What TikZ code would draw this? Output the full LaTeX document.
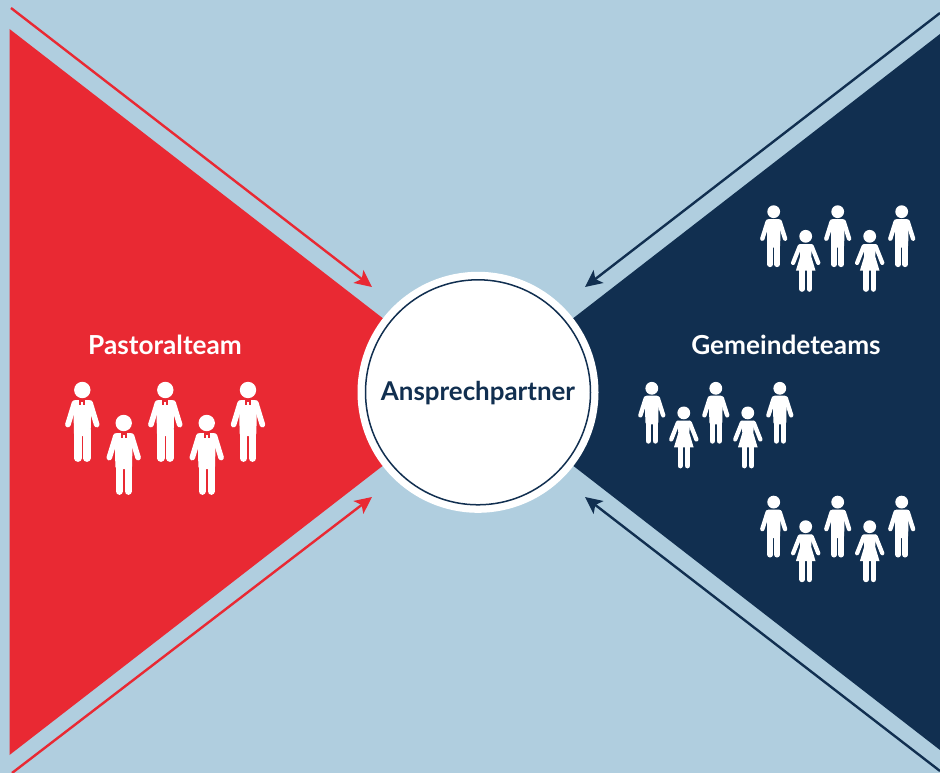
\documentclass[tikz,border=0pt]{standalone}
\usepackage{fontspec}
\setmainfont{Lato}
\usepackage{xcolor}
\usetikzlibrary{positioning,arrows.meta}
\definecolor{skyback}{HTML}{B0CEDF}
\definecolor{teamred}{HTML}{E92933}
\definecolor{teamblue}{HTML}{112F50}

\begin{document}
\begin{tikzpicture}[x=1pt,y=-1pt,
    >={Stealth[length=17pt,width=16pt,inset=4pt]},
    hub/.style={%
      circle, draw=white, line width=8pt, fill=white,
      minimum size=233pt, inner sep=0pt, align=center
    },
    ring/.style={%
      circle, draw=teamblue, line width=1.5pt,
      minimum size=225pt, inner sep=0pt
    },
    lbl/.style={%
      text=white, font=\bfseries\fontsize{26.2}{26}\selectfont, inner sep=0pt
    },
    redarrow/.style={draw=teamred, fill=teamred, line width=2.4pt, ->},
    bluearrow/.style={draw=teamblue, fill=teamblue, line width=2.4pt, ->},
    man/.pic={%
      \fill[white] (0,0) circle (6.4);
      \fill[white,rounded corners=2pt] (-7,7.4) -- (7,7.4) -- (6.4,36) -- (-6.4,36) -- cycle;
      \draw[white,line cap=round,line width=4.4pt] (-6,10) -- (-11.4,27);
      \draw[white,line cap=round,line width=4.4pt] (6,10) -- (11.4,27);
      \draw[white,line cap=round,line width=5.6pt] (-3.5,30) -- (-3.5,52.6);
      \draw[white,line cap=round,line width=5.6pt] (3.5,30) -- (3.5,52.6);
    },
    woman/.pic={%
      \fill[white] (0,0) circle (6.4);
      \fill[white] (-6.4,7.7) -- (6.4,7.7) -- (5.5,20) -- (9.8,34.4) -- (-9.8,34.4) -- (-5.5,20) -- cycle;
      \draw[white,line cap=round,line width=4.2pt] (-6,10) -- (-12.6,26.6);
      \draw[white,line cap=round,line width=4.2pt] (6,10) -- (12.6,26.6);
      \draw[white,line cap=round,line width=5.4pt] (-3.6,32) -- (-3.6,52.8);
      \draw[white,line cap=round,line width=5.4pt] (3.6,32) -- (3.6,52.8);
    },
    pastor/.pic={%
      \fill[white] (0,0) circle (8.2);
      \fill[white,rounded corners=2.5pt] (-9,10) -- (9,10) -- (8.3,46) -- (-8.3,46) -- cycle;
      \draw[white,line cap=round,line width=5.6pt] (-7.8,13) -- (-14.4,34.6);
      \draw[white,line cap=round,line width=5.6pt] (7.8,13) -- (14.4,34.6);
      \draw[white,line cap=round,line width=7.4pt] (-4.5,40) -- (-4.5,68.2);
      \draw[white,line cap=round,line width=7.4pt] (4.5,40) -- (4.5,68.2);
      \fill[teamred] (-3,9.5) rectangle (3,14.5);
      \fill[white] (-1.1,11.5) rectangle (1.1,14.5);
    }
]
    \useasboundingbox (0,0) rectangle (940,773);
    \fill[skyback] (0,0) rectangle (940,773);

    % the two wedges
    \fill[teamred]  (9.5,29) -- (478,392) -- (9.5,755) -- cycle;
    \fill[teamblue] (940,34) -- (478,392) -- (940,750) -- cycle;

    \coordinate (rs1) at (11,8);
    \coordinate (re1) at (372,287);
    \coordinate (rs2) at (12,773);
    \coordinate (re2) at (372,497);
    \coordinate (bs1) at (940,13);
    \coordinate (be1) at (585,287);
    \coordinate (bs2) at (940,771);
    \coordinate (be2) at (585,497);

    \path (rs1) edge[redarrow]  (re1)
          (rs2) edge[redarrow]  (re2)
          (bs1) edge[bluearrow] (be1)
          (bs2) edge[bluearrow] (be2)
    ;

    \node[hub]  (hub)  at (478,392.3) {};
    \node[ring] (ring) at (478,392.3) {};
    \node[font=\bfseries\fontsize{25.9}{26}\selectfont, text=teamblue, inner sep=0pt] (name) at (478,393.5) {Ansprechpartner};

    \node[lbl] (pastoral) at (165,344.5) {Pastoralteam};
    \node[lbl] (gemeinde) at (786,344.5) {Gemeindeteams};

    \foreach \x/\y in {82.3/390,123.7/423,165.3/390,206.7/423,248/390}
      \pic at (\x,\y) {pastor};

    \foreach \dx/\dy in {0/0,-121.9/176.6,0/290.4}
    {
      \foreach \x in {773.7,837.7,901.7}
        \pic at (\x+\dx,211.7+\dy) {man};
      \foreach \x in {805.7,869.7}
        \pic at (\x+\dx,236.3+\dy) {woman};
    }

\end{tikzpicture}
\end{document}
